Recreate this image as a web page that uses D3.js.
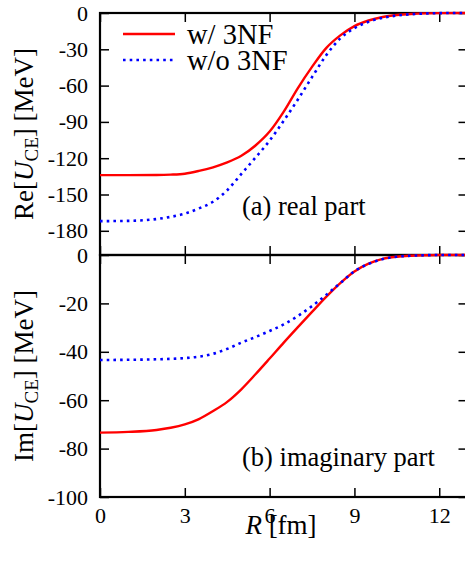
<!DOCTYPE html>
<html>
<head>
<meta charset="utf-8">
<script src="https://cdn.jsdelivr.net/npm/d3@7"></script>
<style>
  body { margin: 0; background: #fff; }
</style>
</head>
<body>
<div id="chart"></div>
<script>
// R grid [fm] and potentials [MeV]
const rFm = [0, 1, 2, 2.5, 3, 3.5, 4, 4.5, 5, 5.5, 6, 6.5, 7, 7.5, 8, 8.5, 9, 9.5, 10, 10.5, 11, 11.5, 12, 13]

const reWith3NF    = [-134, -134, -133.9, -133.6, -132.8, -130.5, -127.5, -123.5, -118, -109.5, -98, -81.5, -62, -44.5, -29, -18.5, -10.8, -6.2, -3.3, -1.7, -0.8, -0.3, -0.1, 0]
const reWithout3NF = [-172, -171.8, -170.3, -168.5, -165.8, -161.5, -156, -146.5, -133, -119.5, -105.5, -89, -71.5, -53, -35, -21, -12.5, -7.3, -4, -2.1, -1, -0.4, -0.1, 0]

const imWith3NF    = [-73.4, -73.1, -72.3, -71.4, -70, -67.8, -64.5, -60.7, -55.5, -49.3, -42.8, -36.2, -29.8, -23.5, -17.3, -11.6, -6.8, -3.6, -1.6, -0.7, -0.3, -0.1, 0, 0]
const imWithout3NF = [-43.4, -43.3, -43.1, -42.9, -42.6, -42, -40.8, -38.8, -36.2, -33.9, -31.4, -28.7, -25.2, -21.1, -16.5, -11.6, -6.7, -3.7, -1.7, -0.7, -0.3, -0.1, 0, 0]

const rTicks  = [0, 3, 6, 9, 12]
const reTicks = [0, -30, -60, -90, -120, -150, -180]
const imTicks = [0, -20, -40, -60, -80, -100]

const seriesNames = ["w/ 3NF", "w/o 3NF"]

const FONT = "'Liberation Serif', 'Times New Roman', serif"
const W = 465, H = 561
const left = 100, right = 467.5

let svg = d3.select("#chart").append("svg")
    .attr("width", W)
    .attr("height", H)
    .style("font-family", FONT)

let x = d3.scaleLinear().domain([0, 13]).range([left, right])

const panels = [
    {y: d3.scaleLinear().domain([-200, 0]).range([255, 13]), ticks: reTicks,
     lines: [reWith3NF, reWithout3NF], label: "(a) real part", labelY: 215, part: "Re"},
    {y: d3.scaleLinear().domain([-100, 0]).range([497, 255]), ticks: imTicks,
     lines: [imWith3NF, imWithout3NF], label: "(b) imaginary part", labelY: 466, part: "Im"}
]

const styles = [
    {stroke: "#ff0000", width: 2.4, dash: null},
    {stroke: "#0000ff", width: 2.6, dash: "2.6,4.1"}
]

const tidy = g => {
    g.attr("font-family", null).attr("font-size", null)
    g.select(".domain").remove()
    g.selectAll(".tick line").attr("stroke", "#000").attr("stroke-width", 1.5)
    g.selectAll("text").style("font-family", FONT).style("font-size", "22px").attr("fill", "#000")
}

panels.forEach((p, i) => {
    let [y0, y1] = p.y.range()

    // left axis, ticks pointing inward
    svg.append("g")
        .attr("transform", "translate(" + left + ",0)")
        .call(d3.axisLeft(p.y).tickValues(p.ticks).tickSize(-9).tickSizeOuter(0)
            .tickPadding(12).tickFormat(d => String(d)))
        .call(tidy)

    // mirror ticks on the right
    svg.append("g")
        .attr("transform", "translate(" + right + ",0)")
        .call(d3.axisRight(p.y).tickValues(p.ticks).tickSize(-9).tickSizeOuter(0).tickFormat(""))
        .call(tidy)

    // top and bottom ticks
    svg.append("g")
        .attr("transform", "translate(0," + y1 + ")")
        .call(d3.axisTop(x).tickValues(rTicks).tickSize(-9).tickSizeOuter(0).tickFormat(""))
        .call(tidy)

    svg.append("g")
        .attr("transform", "translate(0," + y0 + ")")
        .call(d3.axisBottom(x).tickValues(rTicks).tickSize(-9).tickSizeOuter(0)
            .tickPadding(10.5).tickFormat(i === 1 ? d => String(d) : ""))
        .call(tidy)

    // frame
    svg.append("rect")
        .attr("x", left).attr("y", y1)
        .attr("width", right - left).attr("height", y0 - y1)
        .attr("fill", "none").attr("stroke", "#000").attr("stroke-width", 2.2)

    // curves
    p.lines.forEach((vals, k) => {
        let line = d3.line()
            .x((d, j) => x(rFm[j]))
            .y(d => p.y(d))
            .curve(d3.curveMonotoneX)
        svg.append("path")
            .datum(vals)
            .attr("d", line)
            .attr("fill", "none")
            .attr("stroke", styles[k].stroke)
            .attr("stroke-width", styles[k].width)
            .attr("stroke-dasharray", styles[k].dash)
    })

    // panel label
    svg.append("text")
        .attr("x", 242).attr("y", p.labelY)
        .style("font-size", "26.5px")
        .text(p.label)

    // y title
    let t = svg.append("text")
        .attr("transform", "translate(33," + (y0 + y1) / 2 + ") rotate(-90)")
        .attr("text-anchor", "middle")
        .style("font-size", "27px")
    t.append("tspan").text(p.part + "[")
    t.append("tspan").style("font-style", "italic").text("U")
    t.append("tspan").style("font-size", "19px").attr("dy", 5).text("CE")
    t.append("tspan").attr("dy", -5).text("] [MeV]")
})

// x title
let xt = svg.append("text")
    .attr("x", 281).attr("y", 534)
    .attr("text-anchor", "middle")
    .style("font-size", "27px")
xt.append("tspan").style("font-style", "italic").text("R")
xt.append("tspan").text(" [fm]")

// legend
const legendY = [34, 60]
seriesNames.forEach((name, k) => {
    svg.append("line")
        .attr("x1", 123).attr("x2", 175)
        .attr("y1", legendY[k]).attr("y2", legendY[k])
        .attr("stroke", styles[k].stroke)
        .attr("stroke-width", styles[k].width)
        .attr("stroke-dasharray", styles[k].dash)
    svg.append("text")
        .attr("x", 187).attr("y", legendY[k] + 10)
        .style("font-size", "28.5px")
        .text(name)
})
</script>
</body>
</html>
